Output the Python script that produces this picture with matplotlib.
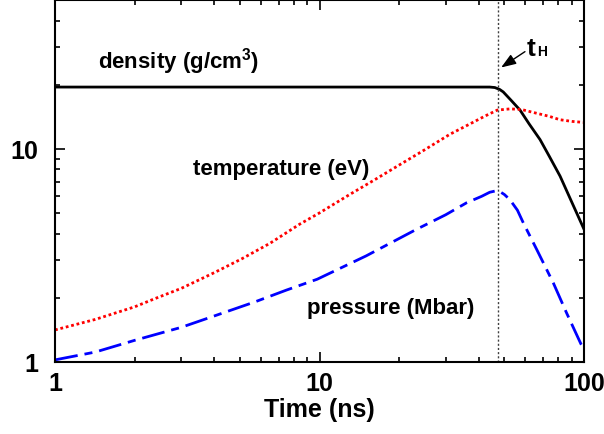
import matplotlib
matplotlib.use("Agg")
import matplotlib.pyplot as plt
from matplotlib.ticker import LogLocator, NullFormatter

plt.rcParams['font.family'] = ['Liberation Sans', 'DejaVu Sans']
plt.rcParams['font.weight'] = 'bold'
plt.rcParams['mathtext.fontset'] = 'custom'
plt.rcParams['mathtext.rm'] = 'Liberation Sans:bold'
plt.rcParams['mathtext.bf'] = 'Liberation Sans:bold'

# values (time in ns)
t_dens = [1, 44, 46, 48, 49.5, 53, 57.3, 62, 68.2, 74, 81.2, 90, 100]
dens = [19.5, 19.5, 19.4, 19.0, 18.5, 16.9, 15.2, 13.1, 11.05, 9.2, 7.44, 5.6, 4.19]

t_temp = [1, 1.42, 2, 2.39, 3, 4, 5.1, 6.5, 8.4, 10, 13, 16, 20.2, 25, 31.1,
          37.1, 42, 47, 52.5, 58, 66, 74, 81, 90, 100]
temp = [1.41, 1.58, 1.81, 1.98, 2.21, 2.62, 3.05, 3.6, 4.42, 5.0, 6.1, 7.1, 8.45,
        9.9, 11.7, 13.1, 14.2, 15.2, 15.4, 15.3, 14.7, 14.2, 13.7, 13.45, 13.3]

t_pres = [1, 1.42, 2, 3, 4, 5.7, 7.5, 9.8, 15, 23.3, 30, 36, 41, 44, 46, 48,
          50, 52.5, 56, 59, 66.3, 76.6, 86, 97.4, 100]
pres = [1.02, 1.11, 1.26, 1.45, 1.64, 1.91, 2.17, 2.44, 3.14, 4.19, 4.9, 5.58,
        5.98, 6.25, 6.33, 6.3, 6.1, 5.76, 5.15, 4.48, 3.36, 2.34, 1.69, 1.21, 1.15]

t_h = 47.2

fig = plt.figure(figsize=(6.04, 4.35), dpi=100)
ax = fig.add_axes([0.0911, 0.1662, 0.8758, 0.8315])

ax.plot(t_dens, dens, color='black', lw=2)
ax.plot(t_temp, temp, color='red', lw=2, linestyle=(0, (1, 1)))
ax.plot(t_pres, pres, color='blue', lw=2, dashes=(8.3, 2.5, 2.9, 2.5))
ax.axvline(t_h, color='0.25', lw=1, linestyle=(0, (1.5, 1.5)))

ax.set_xscale('log')
ax.set_yscale('log')
ax.set_xlim(1, 100)
ax.set_ylim(1, 50)

ax.set_xticks([1, 10, 100])
ax.set_xticklabels(['1', '10', '100'])
ax.set_yticks([1, 10])
ax.set_yticklabels(['1', '10'])
ax.xaxis.set_minor_locator(LogLocator(subs=range(2, 10)))
ax.yaxis.set_minor_locator(LogLocator(subs=range(2, 10)))
ax.xaxis.set_minor_formatter(NullFormatter())
ax.yaxis.set_minor_formatter(NullFormatter())

ax.tick_params(which='both', direction='in', top=True, right=True, width=1.2)
ax.tick_params(which='major', length=7, labelsize=18)
ax.tick_params(which='minor', length=3.6)
ax.tick_params(axis='y', pad=12)
ax.tick_params(axis='x', pad=7)
for s in ax.spines.values():
    s.set_linewidth(1.5)

ax.set_xlabel('Time (ns)', fontsize=18, fontweight='bold', labelpad=1)

ax.text(1.46, 24.2, 'density (g/cm$^{3}$)', fontsize=16, fontweight='bold', va='baseline')
ax.text(3.33, 7.58, 'temperature (eV)', fontsize=16, fontweight='bold', va='baseline')
ax.text(8.95, 1.70, 'pressure (Mbar)', fontsize=16, fontweight='bold', va='baseline')

ax.text(60.7, 27.7, 't', fontsize=19, fontweight='bold', va='baseline')
ax.text(66.5, 27.7, 'H', fontsize=10, fontweight='bold', va='baseline')
ax.annotate('', xy=(48.6, 24.1), xytext=(59.8, 28.6),
            arrowprops=dict(arrowstyle='-|>,head_length=0.6,head_width=0.22',
                            color='black', lw=1, mutation_scale=15,
                            shrinkA=0, shrinkB=0))

fig.savefig('out.png', dpi=100)
